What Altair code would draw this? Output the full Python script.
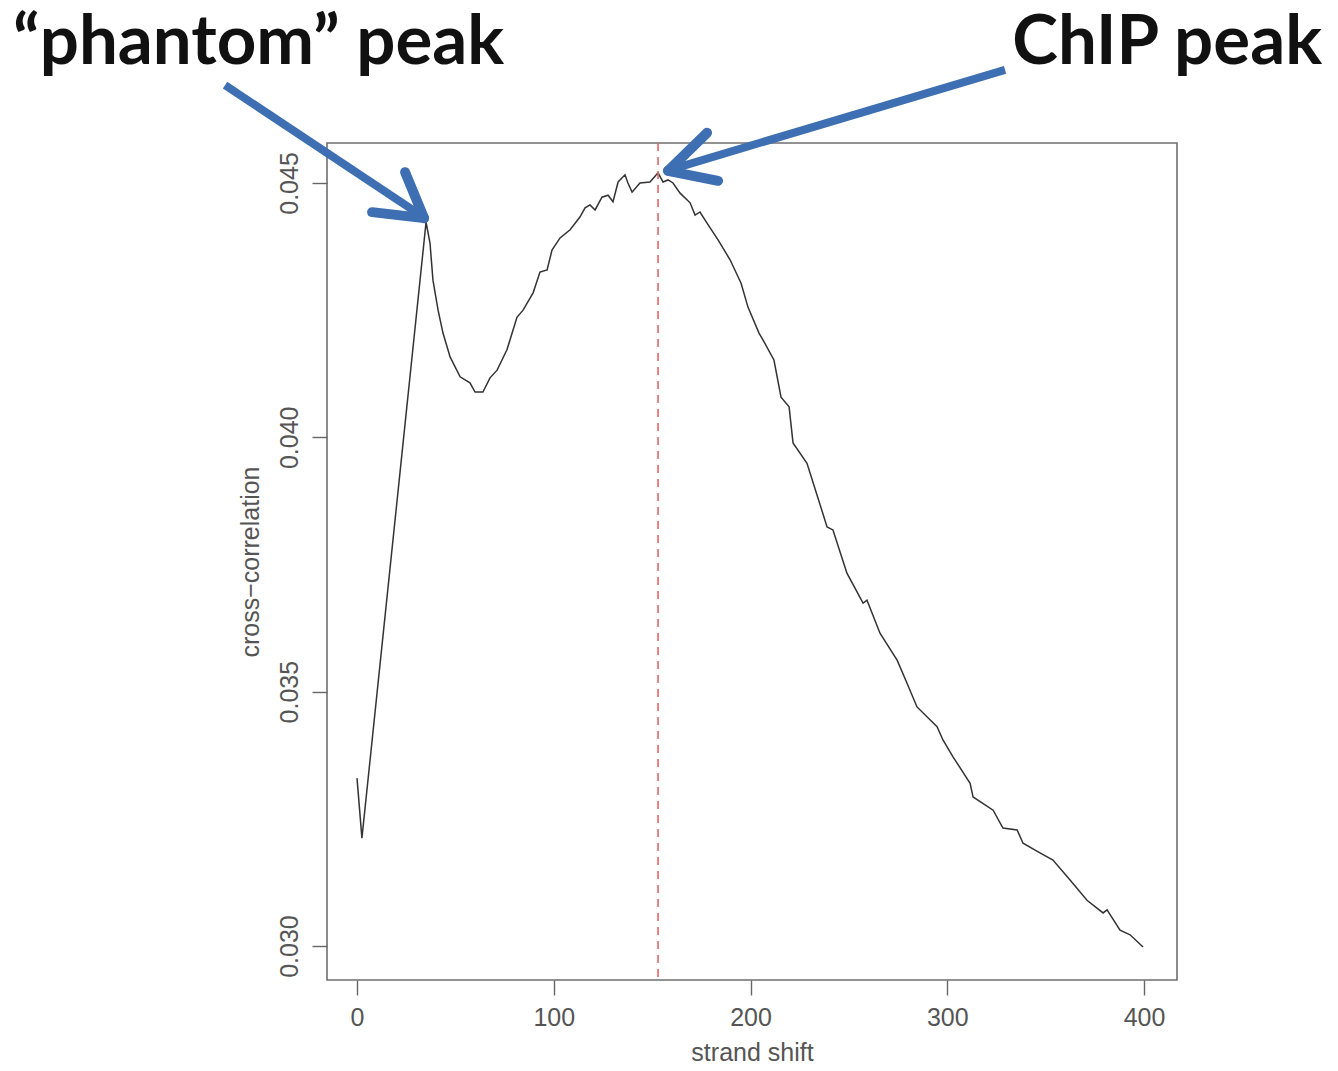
import altair as alt
import pandas as pd

# ---- data ----
shift = [0, 2.5, 35.1, 37.1, 38.6, 41.2, 43.7, 47.3, 52.4, 57.4, 60.0, 64.0, 67.6,
         71.2, 76.2, 81.3, 84.4, 89.5, 93.0, 96.6, 99.1, 103.2, 108.3, 113.3, 115.9,
         118.4, 121.0, 124.5, 127.6, 130.1, 132.7, 136.2, 137.7, 139.8, 143.8, 148.9,
         153.0, 155.5, 158.1, 160.6, 164.2, 169.3, 171.8, 174.3,
         177.9, 183.5, 189.6, 195.2, 198.7, 204.3, 206.4, 211.9, 215.5, 219.6,
         221.6, 228.7, 238.9, 241.9, 249.0, 257.2, 259.2, 265.8, 274.5, 279.5, 284.6,
         294.8, 297.8, 302.9, 311.6, 313.1, 323.3, 328.3, 335.5, 338.5, 347.1, 353.7,
         362.4, 371.0, 379.2, 381.2, 387.8, 392.9, 399.5]
ccor = [0.03330, 0.03212, 0.04423, 0.04382, 0.04309, 0.04250, 0.04205, 0.04158,
        0.04119, 0.04107, 0.04089, 0.04089, 0.04117, 0.04132, 0.04172, 0.04236,
        0.04250, 0.04284, 0.04325, 0.04329, 0.04368, 0.04392, 0.04408, 0.04433,
        0.04451, 0.04457, 0.04447, 0.04472, 0.04476, 0.04463, 0.04502, 0.04516,
        0.04500, 0.04482, 0.04500, 0.04502, 0.04520, 0.04502, 0.04506, 0.04500,
        0.04480, 0.04461, 0.04437, 0.04443,
        0.04421, 0.04388, 0.04349, 0.04303, 0.04256, 0.04205, 0.04191, 0.04152,
        0.04079, 0.04060, 0.03989, 0.03949, 0.03824, 0.03818, 0.03733, 0.03674,
        0.03680, 0.03615, 0.03562, 0.03517, 0.03470, 0.03431, 0.03405, 0.03372,
        0.03320, 0.03293, 0.03267, 0.03232, 0.03228, 0.03202, 0.03183, 0.03169,
        0.03130, 0.03090, 0.03065, 0.03071, 0.03031, 0.03022, 0.02998]
x_ticks = [0, 100, 200, 300, 400]
y_ticks = [0.030, 0.035, 0.040, 0.045]
chip_peak_shift = 153.0
phantom_peak = (35.1, 0.04423)
chip_peak = (153.0, 0.04520)
labels = ["\u201cphantom\u201d peak", "ChIP peak"]

# ---- layout ----
W, H = 850, 837
X0, X1 = -15.25, 416.75
Y0, Y1 = 0.029332, 0.045786
kx = (X1 - X0) / W      # data units per pixel
ky = (Y1 - Y0) / H

def off(pt, dx, dy):
    return (pt[0] + dx * kx, pt[1] - dy * ky)

xs = alt.Scale(domain=[X0, X1], nice=False, zero=False)
ys = alt.Scale(domain=[Y0, Y1], nice=False, zero=False)

df = pd.DataFrame({"shift": shift, "cc": ccor})

line = alt.Chart(df).mark_line(color="#333333", strokeWidth=1.5).encode(
    x=alt.X("shift:Q", scale=xs, title="strand shift",
            axis=alt.Axis(values=x_ticks, format="d", labelAngle=0)),
    y=alt.Y("cc:Q", scale=ys, title="cross\u2212correlation",
            axis=alt.Axis(values=y_ticks, format=".3f", labelAngle=-90,
                          labelAlign="center", labelBaseline="bottom")),
)

vline = alt.Chart(pd.DataFrame({"s": [chip_peak_shift]})).mark_rule(
    color="#e06868", strokeWidth=1.6, strokeDash=[8, 6]
).encode(x=alt.X("s:Q", scale=xs))

# arrows (annotation): shaft + two arms, anchored on the peaks
segs = []
def seg(a, b, kind):
    segs.append({"x": a[0], "y": a[1], "x2": b[0], "y2": b[1], "kind": kind})

ph_tip = off(phantom_peak, -2, -4)
seg(off(ph_tip, -199, -133), off(ph_tip, -5, -4), "shaft")
seg(ph_tip, off(ph_tip, -19, -46), "arm")
seg(ph_tip, off(ph_tip, -52, -6), "arm")

ch_tip = off(chip_peak, 10, -2)
seg(off(ch_tip, 337, -101), off(ch_tip, 5, -2), "shaft")
seg(ch_tip, off(ch_tip, 39, -38), "arm")
seg(ch_tip, off(ch_tip, 50, 10), "arm")

segdf = pd.DataFrame(segs)
shafts = alt.Chart(segdf[segdf.kind == "shaft"]).mark_rule(
    color="#3d6fb2", strokeWidth=8, strokeCap="butt"
).encode(x=alt.X("x:Q", scale=xs), y=alt.Y("y:Q", scale=ys), x2="x2:Q", y2="y2:Q")
arms = alt.Chart(segdf[segdf.kind == "arm"]).mark_rule(
    color="#3d6fb2", strokeWidth=10, strokeCap="round"
).encode(x=alt.X("x:Q", scale=xs), y=alt.Y("y:Q", scale=ys), x2="x2:Q", y2="y2:Q")

tp = off(phantom_peak, -413, -158)
tc = off(chip_peak, 664, -109)
txtdf = pd.DataFrame({"x": [tp[0], tc[0]], "y": [tp[1], tc[1]], "t": labels})
t1 = alt.Chart(txtdf.iloc[[0]]).mark_text(
    font="Lato", fontWeight="bold", fontSize=69, align="left", baseline="alphabetic",
    color="#111111"
).encode(x=alt.X("x:Q", scale=xs), y=alt.Y("y:Q", scale=ys), text="t:N")
t2 = alt.Chart(txtdf.iloc[[1]]).mark_text(
    font="Lato", fontWeight="bold", fontSize=69, align="right", baseline="alphabetic",
    color="#111111"
).encode(x=alt.X("x:Q", scale=xs), y=alt.Y("y:Q", scale=ys), text="t:N")

chart = alt.layer(line, vline, shafts, arms, t1, t2).properties(
    width=W, height=H,
    autosize=alt.AutoSizeParams(type="none"),
    padding={"left": 319, "top": 135, "right": 153, "bottom": 100},
).configure_view(
    stroke="#6f6f6f", strokeWidth=1.6
).configure_axis(
    domain=False, grid=False, ticks=True, tickSize=15, tickWidth=1.4,
    tickColor="#666666", labelColor="#555555", labelFont="Liberation Sans",
    labelFontSize=25, labelPadding=10, titleFont="Liberation Sans",
    titleFontSize=25, titleFontWeight="normal", titleColor="#555555",
).configure_axisX(titlePadding=10).configure_axisY(titlePadding=14)

chart.save("out.html", embed_options={"renderer": "svg", "actions": False})
